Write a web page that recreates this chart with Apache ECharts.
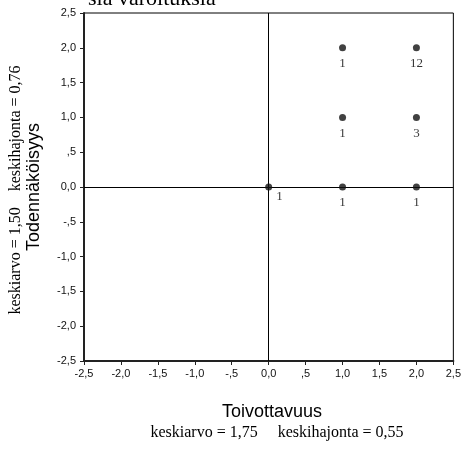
<!DOCTYPE html>
<html>
<head>
<meta charset="utf-8">
<script src="https://cdn.jsdelivr.net/npm/echarts@6/dist/echarts.min.js"></script>
<style>
  html, body { margin: 0; padding: 0; background: #fff; }
  #chart { width: 464px; height: 450px; }
</style>
</head>
<body>
<div id="chart"></div>
<script>
// Response pairs: Toivottavuus (x) vs. Todennäköisyys (y), with case counts
const xValues = [0, 1, 2, 1, 2, 1, 2];
const yValues = [0, 0, 0, 1, 1, 2, 2];
const counts  = [1, 1, 1, 1, 3, 1, 12];

// Axis ticks and their Finnish-formatted labels
const tickValues = [-2.5, -2, -1.5, -1, -0.5, 0, 0.5, 1, 1.5, 2, 2.5];
const tickLabels = ['-2,5', '-2,0', '-1,5', '-1,0', '-,5', '0,0', ',5', '1,0', '1,5', '2,0', '2,5'];

const titleText = 'sia varoituksia';
const xTitle = 'Toivottavuus';
const xStats = 'keskiarvo = 1,75     keskihajonta = 0,55';
const yTitle = 'Todennäköisyys';
const yStats = 'keskiarvo = 1,50    keskihajonta = 0,76';

const SANS = 'Liberation Sans';
const SERIF = 'Liberation Serif';

function tickLabel(v) {
  const i = tickValues.findIndex(t => Math.abs(t - v) < 1e-9);
  return i >= 0 ? tickLabels[i] : '';
}

const points = xValues.map((x, i) => ({
  value: [x, yValues[i], counts[i]],
  label: (x === 0 && yValues[i] === 0)
    ? { position: [11, 7] }
    : undefined
}));

const axisCommon = {
  type: 'value',
  min: -2.5,
  max: 2.5,
  interval: 0.5,
  splitLine: { show: false },
  axisLine: { show: true, onZero: false, lineStyle: { color: '#222', width: 2 } },
  axisTick: { show: true, inside: false, length: 4, lineStyle: { color: '#222', width: 1 } },
  axisLabel: {
    formatter: tickLabel,
    color: '#111',
    fontFamily: SANS,
    fontSize: 11
  }
};

const chart = echarts.init(document.getElementById('chart'), null, { renderer: 'canvas' });
chart.setOption({
  animation: false,
  backgroundColor: '#fff',
  grid: {
    left: 84, top: 13, width: 375, height: 348,
    show: true, borderColor: '#000', borderWidth: 1, backgroundColor: 'transparent'
  },
  xAxis: Object.assign({}, axisCommon, {
    axisLabel: Object.assign({}, axisCommon.axisLabel, { margin: 7 })
  }),
  yAxis: Object.assign({}, axisCommon, {
    axisLabel: Object.assign({}, axisCommon.axisLabel, { margin: 8 })
  }),
  series: [{
    type: 'scatter',
    data: points,
    symbol: 'circle',
    symbolSize: 7,
    itemStyle: { color: '#111' },
    label: {
      show: true,
      position: 'bottom',
      distance: 6,
      formatter: p => String(p.value[2]),
      color: '#000',
      fontFamily: SERIF,
      fontSize: 13
    },
    markLine: {
      silent: true,
      symbol: 'none',
      label: { show: false },
      lineStyle: { color: '#000', width: 1, type: 'solid' },
      data: [{ xAxis: 0 }, { yAxis: 0 }]
    },
    z: 5
  }],
  graphic: [
    {
      type: 'text', x: 88, y: -12,
      style: { text: titleText, font: '22px "Liberation Serif", serif', fill: '#000', verticalAlign: 'top' }
    },
    {
      type: 'text', x: 272, y: 412,
      style: { text: xTitle, font: '18px "Liberation Sans", sans-serif', fill: '#000', align: 'center', verticalAlign: 'middle' }
    },
    {
      type: 'text', x: 277, y: 433,
      style: { text: xStats, font: '16px "Liberation Serif", serif', fill: '#000', align: 'center', verticalAlign: 'middle' }
    },
    {
      type: 'text', x: 34, y: 187, rotation: Math.PI / 2,
      style: { text: yTitle, font: '18px "Liberation Sans", sans-serif', fill: '#000', align: 'center', verticalAlign: 'middle' }
    },
    {
      type: 'text', x: 16, y: 190, rotation: Math.PI / 2,
      style: { text: yStats, font: '16px "Liberation Serif", serif', fill: '#000', align: 'center', verticalAlign: 'middle' }
    }
  ]
});
</script>
</body>
</html>
